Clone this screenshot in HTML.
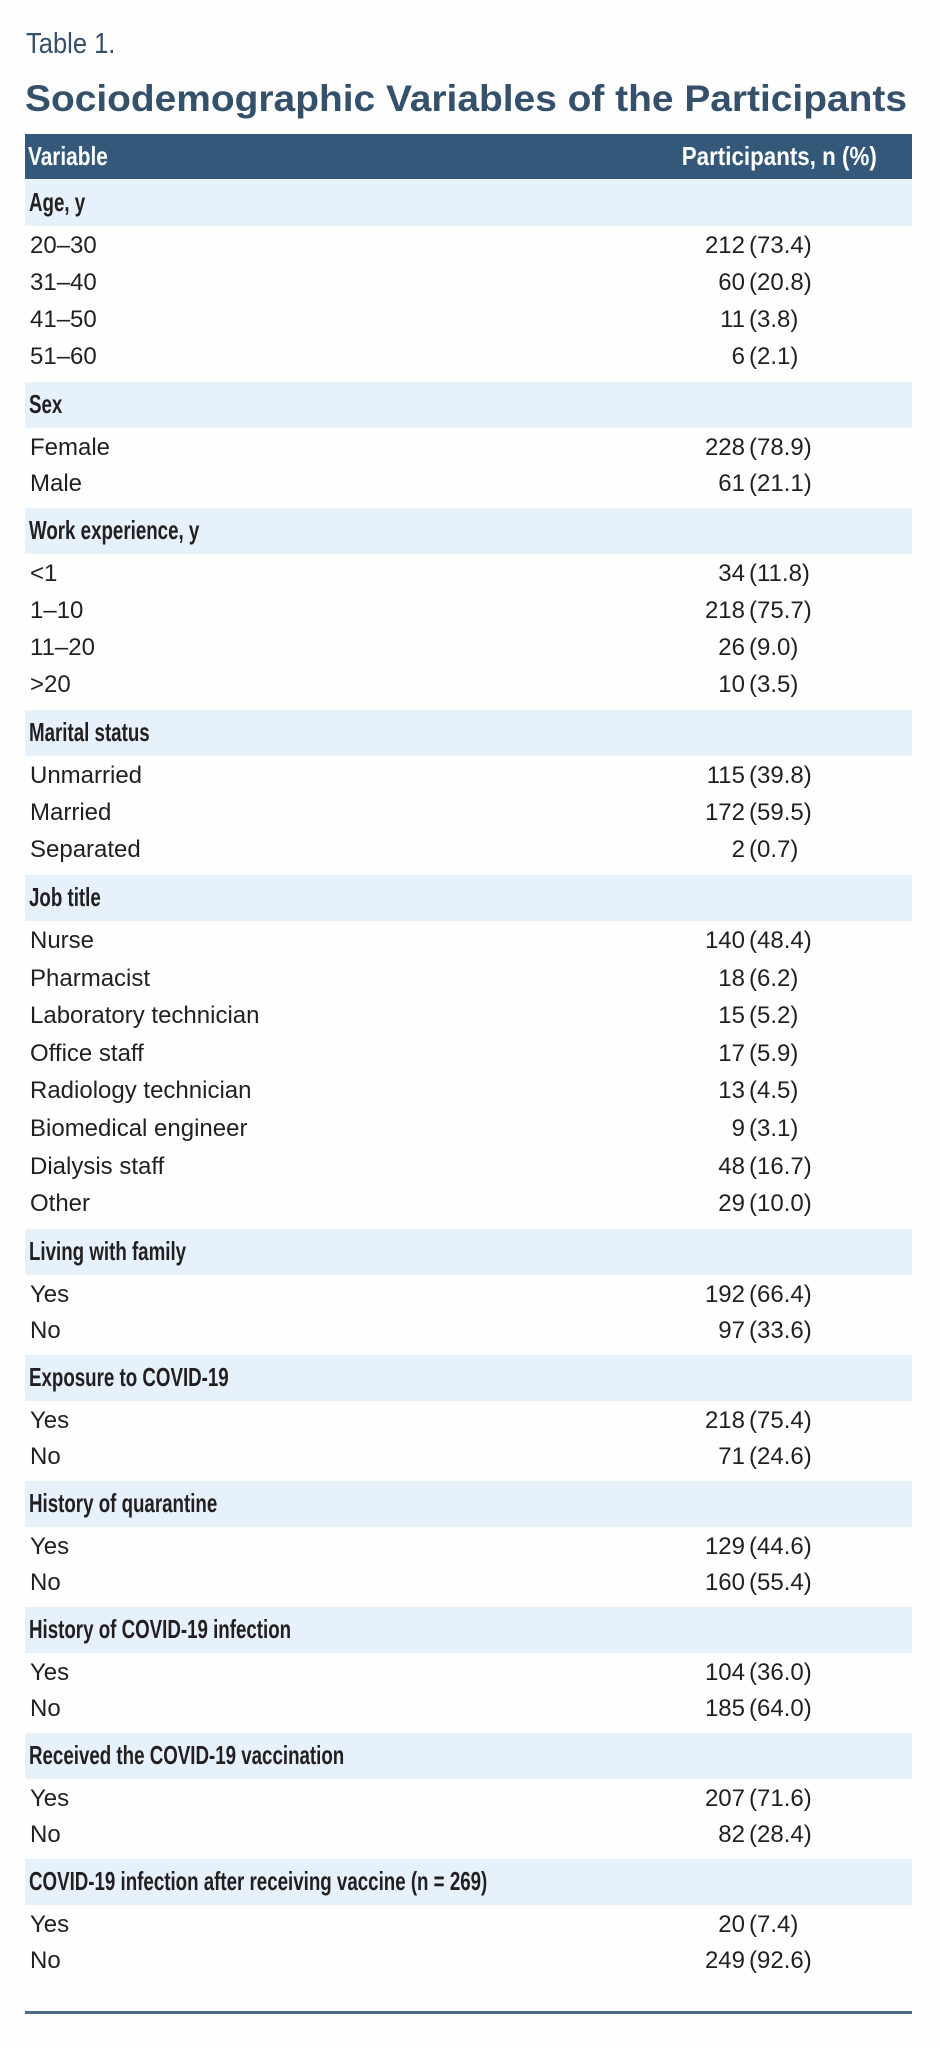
<!DOCTYPE html>
<html><head><meta charset="utf-8">
<style>
html,body{margin:0;padding:0;background:#fdfefd;}
body{width:940px;height:2048px;position:relative;overflow:hidden;font-family:"Liberation Sans Narrow","Liberation Sans",sans-serif;color:#231f20;}
.abs{position:absolute;}
.band{position:absolute;left:25px;width:887px;height:46px;background:#e6f1fb;}
.band span{position:absolute;left:4px;top:7px;font-size:26px;font-weight:bold;white-space:nowrap;transform:scaleX(0.72);transform-origin:left center;}
.lbl{position:absolute;left:30px;font-size:24px;white-space:nowrap;line-height:30px;}
.num{position:absolute;right:195px;font-size:24px;line-height:30px;white-space:nowrap;}
.pct{position:absolute;left:749px;font-size:24px;line-height:30px;white-space:nowrap;}
</style></head>
<body>
<div class="abs" style="left:26px;top:28px;font-size:29px;color:#35506b;transform:scaleX(0.88);transform-origin:left center;">Table 1.</div>
<svg class="abs" style="left:0;top:70px" width="940" height="50">
<text x="25" y="41" textLength="882" lengthAdjust="spacingAndGlyphs" font-family="Liberation Sans, sans-serif" font-weight="bold" font-size="37" fill="#35506b">Sociodemographic Variables of the Participants</text>
</svg>
<div class="abs" style="left:25px;top:134px;width:887px;height:45px;background:#34587a;color:#fff;font-weight:bold;font-size:26px;">
<span style="position:absolute;left:3px;top:7px;transform:scaleX(0.8);transform-origin:left center;">Variable</span>
<span style="position:absolute;right:35px;top:7px;transform:scaleX(0.86);transform-origin:right center;white-space:nowrap;">Participants, n (%)</span>
</div>
<div id="tbl"></div>
<div class="abs" style="left:25px;top:2011px;width:887px;height:3px;background:#4b6a88;"></div>
<script>
const sectionTitles=["Age, y","Sex","Work experience, y","Marital status","Job title","Living with family","Exposure to COVID-19","History of quarantine","History of COVID-19 infection","Received the COVID-19 vaccination","COVID-19 infection after receiving vaccine (n = 269)"];
const rowLabels=[["20–30","31–40","41–50","51–60"],["Female","Male"],["<1","1–10","11–20",">20"],["Unmarried","Married","Separated"],["Nurse","Pharmacist","Laboratory technician","Office staff","Radiology technician","Biomedical engineer","Dialysis staff","Other"],["Yes","No"],["Yes","No"],["Yes","No"],["Yes","No"],["Yes","No"],["Yes","No"]];
const counts=[[212,60,11,6],[228,61],[34,218,26,10],[115,172,2],[140,18,15,17,13,9,48,29],[192,97],[218,71],[129,160],[104,185],[207,82],[20,249]];
const percents=[["73.4","20.8","3.8","2.1"],["78.9","21.1"],["11.8","75.7","9.0","3.5"],["39.8","59.5","0.7"],["48.4","6.2","5.2","5.9","4.5","3.1","16.7","10.0"],["66.4","33.6"],["75.4","24.6"],["44.6","55.4"],["36.0","64.0"],["71.6","28.4"],["7.4","92.6"]];
const tbl=document.getElementById('tbl');
let y=180;
sectionTitles.forEach((t,i)=>{
  const b=document.createElement('div');b.className='band';b.style.top=y+'px';
  
  
  const s=document.createElement('span');s.textContent=t;b.appendChild(s);tbl.appendChild(b);
  const n=rowLabels[i].length;
  const step=n>=8?37.6:(n>=3?37:35.5);
  const bottom=y+46;
  rowLabels[i].forEach((l,j)=>{
    const cy=bottom+20+j*step;
    const a=document.createElement('div');a.className='lbl';a.style.top=(cy-15)+'px';a.textContent=l;
    
    
    tbl.appendChild(a);
    const c=document.createElement('div');c.className='num';c.style.top=(cy-15)+'px';c.textContent=counts[i][j];
    
    
    tbl.appendChild(c);
    const p=document.createElement('div');p.className='pct';p.style.top=(cy-15)+'px';p.textContent='('+percents[i][j]+')';
    
    
    tbl.appendChild(p);
  });
  y=bottom+20+(n-1)*step+23;
  y=Math.round(y+(n>=3?2:1));
});
</script>
</body></html>
